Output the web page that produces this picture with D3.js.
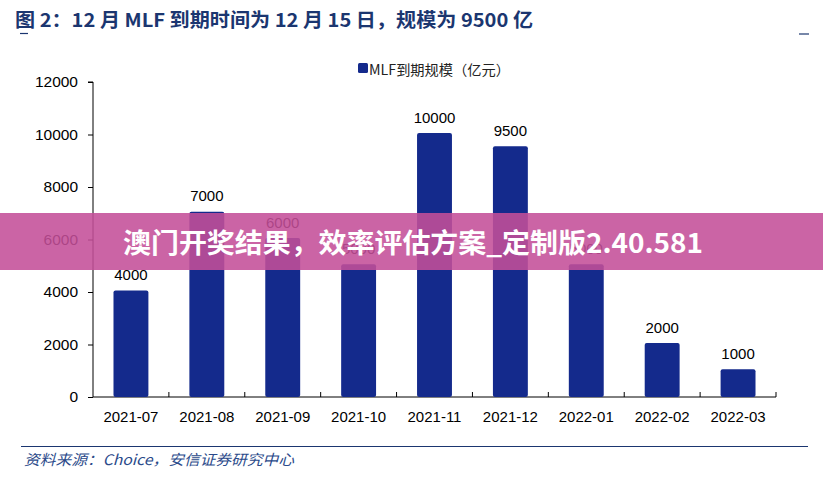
<!DOCTYPE html>
<html><head><meta charset="utf-8">
<script src="https://cdn.jsdelivr.net/npm/d3@7"></script>
<style>body{margin:0;background:#fff;}svg{display:block;}</style>
</head><body>
<svg id="c" width="823" height="485"></svg>
<script>
const categories = ["2021-07","2021-08","2021-09","2021-10","2021-11","2021-12","2022-01","2022-02","2022-03"];
const values = [4000,7000,6000,5000,10000,9500,5000,2000,1000];
const yTicks = [0,2000,4000,6000,8000,10000,12000];
const seriesName = "MLF到期规模（亿元）";
const title = "图 2：12 月 MLF 到期时间为 12 月 15 日，规模为 9500 亿";
const source = "资料来源：Choice，安信证券研究中心";
const banner = "澳门开奖结果，效率评估方案_定制版2.40.581";

const svg = d3.select("#c");
const pLeft = 93, pRight = 776, pTop = 82, pBottom = 397;
const x = d3.scaleBand().domain(categories).range([pLeft, pRight]).paddingInner(0.54).paddingOuter(0.27);
const y = d3.scaleLinear().domain([0,12000]).range([pBottom, pTop]);
const font = "'Liberation Sans', Arial, sans-serif";
const cjk = "'Noto Sans CJK SC', 'Liberation Sans', sans-serif";

// title
svg.append("text").attr("x",15).attr("y",27).attr("fill","#1b3670")
  .attr("font-family",cjk).attr("font-weight","bold")
  .attr("font-size",19).attr("textLength",518).attr("lengthAdjust","spacingAndGlyphs").text(title);
svg.append("line").attr("x1",20).attr("x2",28).attr("y1",33.5).attr("y2",33.5).attr("stroke","#1b3670").attr("stroke-width",1.2);
svg.append("line").attr("x1",799).attr("x2",809).attr("y1",34).attr("y2",34).attr("stroke","#1b3670").attr("stroke-width",1.2);

// legend
svg.append("rect").attr("x",358).attr("y",63).attr("width",10).attr("height",10).attr("rx",1.5).attr("fill","#142a8c");
svg.append("text").attr("x",369).attr("y",75).attr("font-family",cjk).attr("font-size",14).attr("fill","#222")
  .attr("textLength",141).attr("lengthAdjust","spacingAndGlyphs").text(seriesName);

// y axis
const yAxis = d3.axisLeft(y).tickValues(yTicks).tickSize(5).tickPadding(10).tickFormat(d3.format("d"));
const gy = svg.append("g").attr("transform",`translate(${pLeft},0)`).call(yAxis);
gy.select(".domain").attr("stroke","#000").attr("d",`M-5,${pTop}H0V${pBottom}`);
gy.selectAll(".tick line").attr("stroke","#000");
gy.selectAll(".tick text").attr("font-family",font).attr("font-size",15.5).attr("fill","#000");

// x axis
const xAxis = d3.axisBottom(x).tickSize(0).tickPadding(14);
const gx = svg.append("g").attr("transform",`translate(0,${pBottom})`).call(xAxis);
gx.select(".domain").attr("stroke","#000").attr("d",`M${pLeft},0H${pRight}`);
gx.selectAll(".tick text").attr("font-family",font).attr("font-size",15).attr("fill","#000");
const step = x.step();
const bounds = d3.range(1, categories.length+1).map(i => pLeft + i*step);
svg.append("g").selectAll("line").data(bounds).join("line")
  .attr("x1",d=>d).attr("x2",d=>d).attr("y1",pBottom).attr("y2",pBottom-5).attr("stroke","#000");

// bars
svg.append("g").selectAll("rect").data(values).join("rect")
  .attr("x",(d,i)=>x(categories[i])).attr("width",x.bandwidth())
  .attr("y",d=>y(d)-1.5).attr("height",d=>pBottom-y(d)+1.5).attr("rx",2).attr("fill","#142a8c");
svg.append("g").selectAll("text").data(values).join("text")
  .attr("x",(d,i)=>x(categories[i])+x.bandwidth()/2).attr("y",d=>y(d)-12)
  .attr("text-anchor","middle").attr("font-family",font).attr("font-size",15).attr("fill","#000")
  .text(d=>d);

// bottom rule & source
svg.append("line").attr("x1",21).attr("x2",808).attr("y1",446.5).attr("y2",446.5).attr("stroke","#1b3670").attr("stroke-width",1.2);
svg.append("text").attr("x",24).attr("y",465).attr("fill","#2b4a8a").attr("font-size",14.5).attr("font-style","italic")
  .attr("font-family",cjk).attr("textLength",270).attr("lengthAdjust","spacingAndGlyphs").text(source);

// banner overlay
svg.append("rect").attr("x",0).attr("y",213).attr("width",823).attr("height",57).attr("fill","rgb(196,78,152)").attr("opacity",0.88);
svg.append("text").attr("x",123).attr("y",253).attr("fill","#fff").attr("font-weight","bold").attr("font-size",27)
  .attr("font-family",cjk).attr("textLength",580).attr("lengthAdjust","spacingAndGlyphs").text(banner);
</script>
</body></html>
